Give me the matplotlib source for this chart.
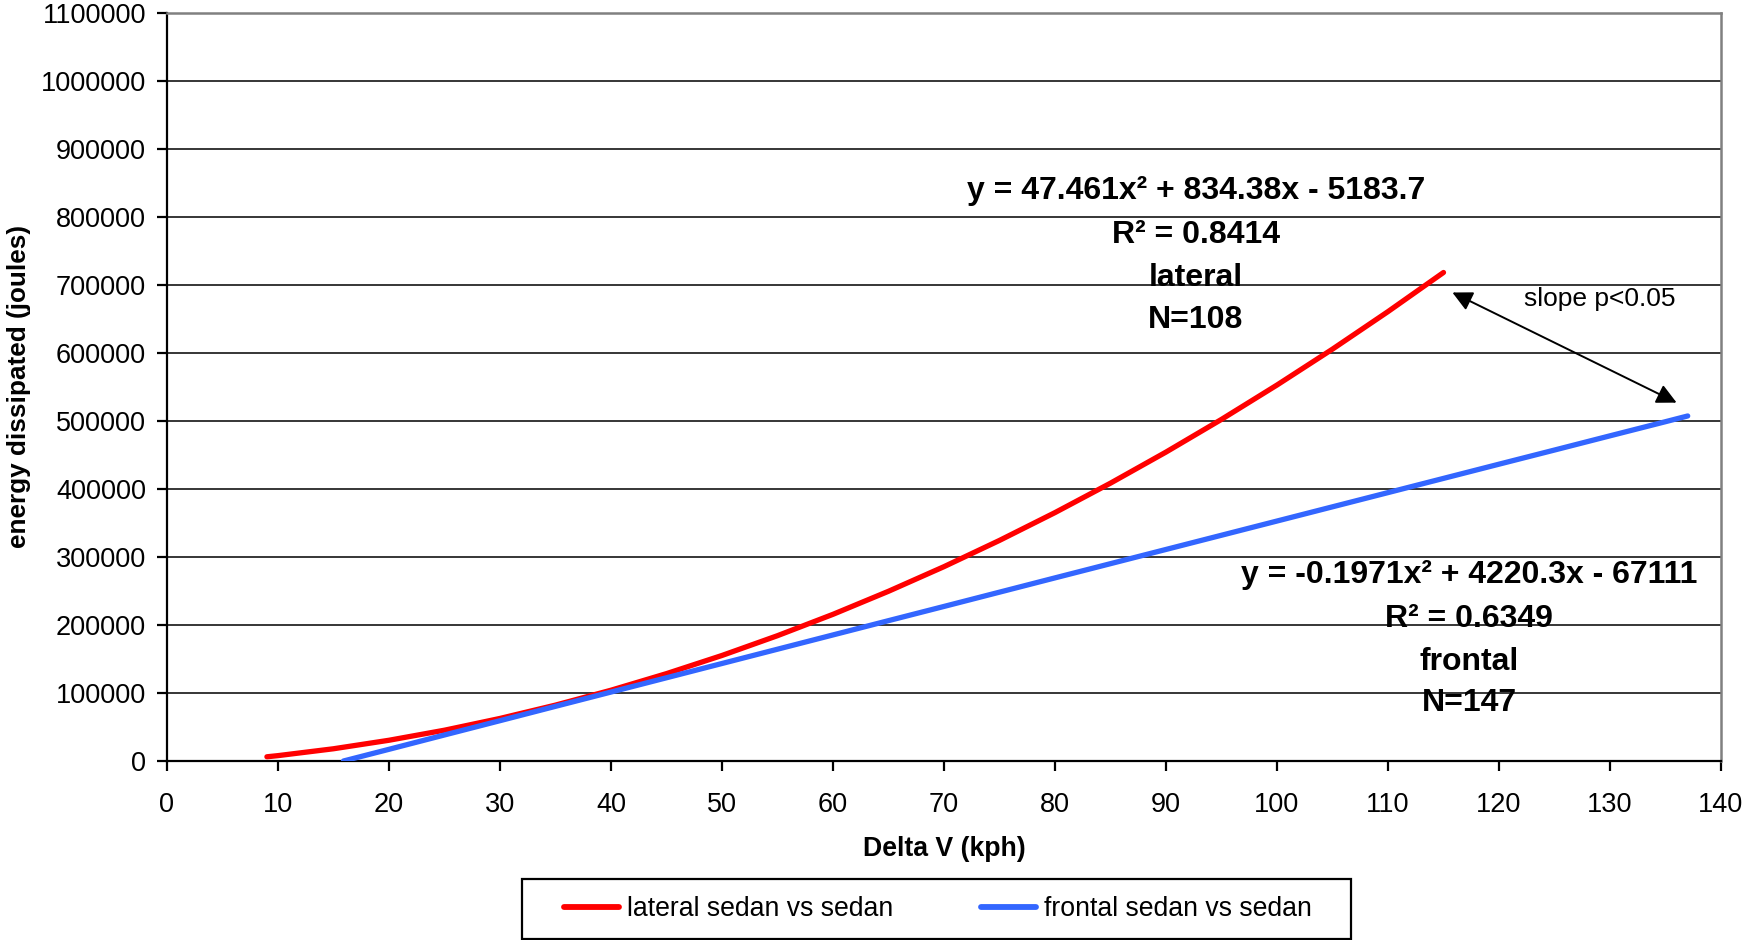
import matplotlib
matplotlib.use("Agg")
import matplotlib.pyplot as plt
from matplotlib.patches import Rectangle

plt.rcParams['font.family'] = ['Liberation Sans', 'DejaVu Sans']

# Data (trend curves)
lateral_x = [9, 10, 15, 20, 25, 30, 35, 40, 45, 50, 55, 60, 65, 70, 75, 80,
             85, 90, 95, 100, 105, 110, 115]
lateral_y = [6200, 7900, 18000, 30500, 45300, 62600, 82200, 104100, 128500,
             155200, 184300, 215700, 249600, 285800, 324400, 365300, 408600,
             454300, 502400, 552900, 605700, 660900, 718400]

frontal_x = [15.9, 20, 25, 30, 35, 40, 45, 50, 55, 60, 65, 70, 75, 80, 85,
             90, 95, 100, 105, 110, 115, 120, 125, 130, 135, 137]
frontal_y = [0, 17200, 38300, 59300, 80400, 101400, 122400, 143400, 164400,
             185400, 206400, 227300, 248300, 269300, 290200, 311100, 332000,
             352900, 373800, 394700, 415600, 436500, 457300, 478200, 499000,
             507400]

x_ticks = list(range(0, 141, 10))
y_ticks = list(range(0, 1100001, 100000))

series_names = ['lateral sedan vs sedan', 'frontal sedan vs sedan']
lateral_note = ['y = 47.461x\u00b2 + 834.38x - 5183.7', 'R\u00b2 = 0.8414', 'lateral', 'N=108']
frontal_note = ['y = -0.1971x\u00b2 + 4220.3x - 67111', 'R\u00b2 = 0.6349', 'frontal', 'N=147']

fig = plt.figure(figsize=(17.43, 9.4), dpi=100)
ax = fig.add_axes([167 / 1743, 179 / 940, 1554 / 1743, 748 / 940])

RED = '#FF0000'
BLUE = '#3366FF'

ax.plot(lateral_x, lateral_y, color=RED, lw=3.8, solid_capstyle='round',
        label=series_names[0], zorder=3)
ax.plot(frontal_x, frontal_y, color=BLUE, lw=3.8, solid_capstyle='round',
        label=series_names[1], zorder=3)

ax.set_xlim(0, 140)
ax.set_ylim(0, 1100000)
ax.set_xticks(x_ticks)
ax.set_yticks(y_ticks)
ax.set_xticklabels([str(v) for v in x_ticks])
ax.set_yticklabels([str(v) for v in y_ticks])

ax.yaxis.grid(True, color='black', lw=1.1)
ax.set_axisbelow(True)

for s in ['left', 'bottom']:
    ax.spines[s].set_color('black')
    ax.spines[s].set_linewidth(1.6)
for s in ['top', 'right']:
    ax.spines[s].set_color('#808080')
    ax.spines[s].set_linewidth(1.8)

ax.tick_params(axis='both', direction='out', length=7, width=1.6,
               labelsize=19.5, colors='black')
ax.tick_params(axis='x', pad=15)
ax.tick_params(axis='y', pad=8)

ax.set_xlabel('Delta V (kph)', fontsize=19.2, fontweight='bold', labelpad=13)
ax.set_ylabel('energy dissipated (joules)', fontsize=18.8, fontweight='bold', labelpad=7)

# annotations
lat_y = [838000, 774000, 710000, 648000]
for t, yy in zip(lateral_note, lat_y):
    ax.text(92.7, yy, t, fontsize=23, fontweight='bold', ha='center', va='center')
fr_y = [273000, 209000, 146000, 85000]
for t, yy in zip(frontal_note, fr_y):
    ax.text(117.3, yy, t, fontsize=23, fontweight='bold', ha='center', va='center')

ax.annotate('', xy=(115.8, 689000), xytext=(136.0, 527000),
            arrowprops=dict(arrowstyle='<|-|>', color='black', lw=1.4,
                            mutation_scale=30, shrinkA=0, shrinkB=0))
ax.text(129.1, 679000, 'slope p<0.05', fontsize=19, ha='center', va='center')

leg = fig.legend(loc='center', bbox_to_anchor=(938 / 1743, 31 / 940), ncol=2,
                 fontsize=19.2, frameon=False,
                 handlelength=2.05, handletextpad=0.3, columnspacing=3.3,
                 borderpad=0.0, borderaxespad=0)
for h in leg.legend_handles:
    h.set_linewidth(4.2)

fig.patches.append(Rectangle((522 / 1743, 1.5 / 940), 829 / 1743, 60 / 940,
                             transform=fig.transFigure, fill=False,
                             edgecolor='black', lw=1.6))

fig.savefig('out.png', dpi=100, facecolor='white')
